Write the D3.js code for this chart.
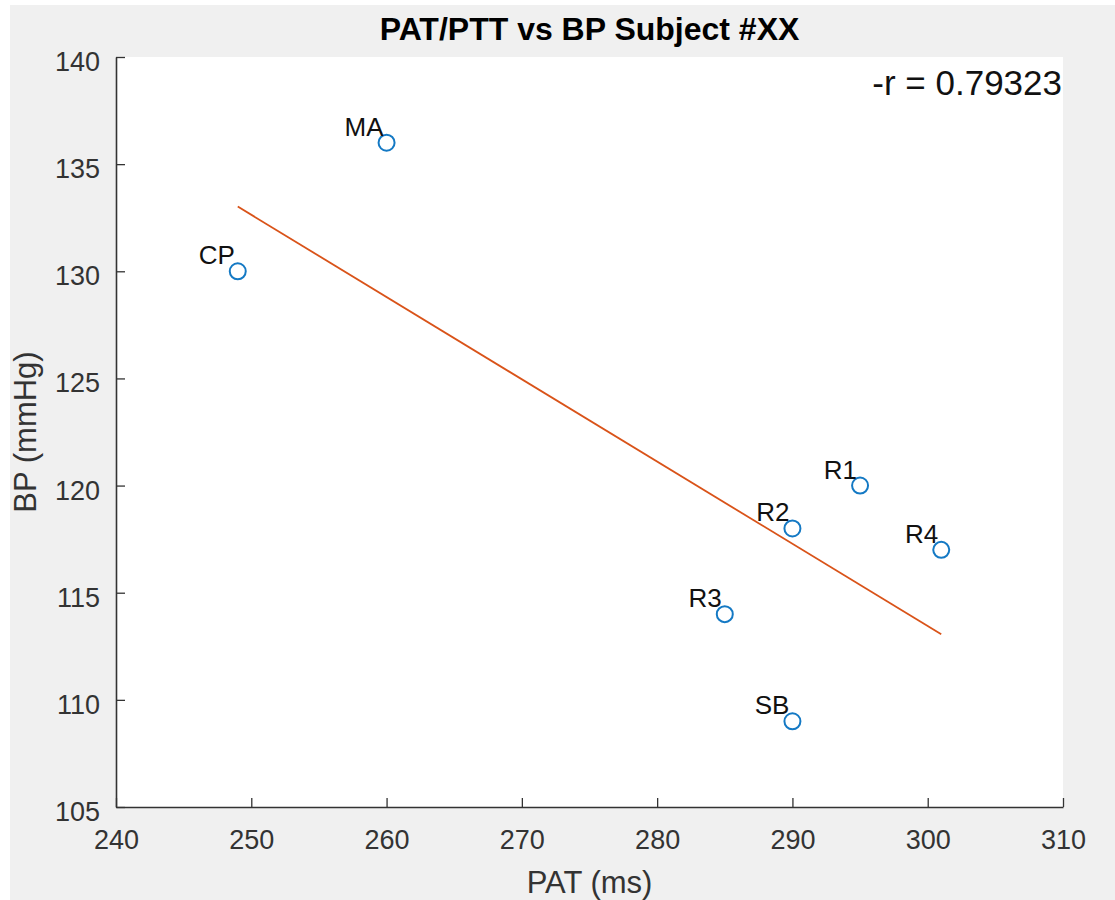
<!DOCTYPE html>
<html>
<head>
<meta charset="utf-8">
<script src="https://cdn.jsdelivr.net/npm/d3@7"></script>
<style>
  body { margin: 0; background: #fff; }
  svg { display: block; font-family: "Liberation Sans", Arial, Helvetica, sans-serif; }
</style>
</head>
<body>
<div id="chart"></div>
<script>
// points
const names = ["MA", "CP", "R1", "R2", "R4", "R3", "SB"];
const pat = [260, 249, 295, 290, 301, 285, 290];
const bp = [136, 130, 120, 118, 117, 114, 109];

// fitted line ends
const fitPat = [249, 301];
const fitBp = [133.02, 113.06];

const xTicks = [240, 250, 260, 270, 280, 290, 300, 310];
const yTicks = [105, 110, 115, 120, 125, 130, 135, 140];
const rText = "-r = 0.79323";

const width = 1115, height = 900;
const plotL = 116, plotR = 1063, plotT = 57, plotB = 807;
const ink = "#333";

const svg = d3.select("#chart")
  .append("svg")
  .attr("width", width)
  .attr("height", height);

// figure background
svg.append("rect")
  .attr("x", 10).attr("y", 5)
  .attr("width", width - 10).attr("height", height - 5)
  .attr("fill", "#f0f0f0");

svg.append("rect")
  .attr("x", plotL).attr("y", plotT)
  .attr("width", plotR - plotL).attr("height", plotB - plotT)
  .attr("fill", "#fff");

const x = d3.scaleLinear().domain([240, 310]).range([plotL, plotR]);
const y = d3.scaleLinear().domain([105, 140]).range([plotB, plotT]);

// x axis
const xAxis = svg.append("g")
  .attr("transform", `translate(0,${plotB})`)
  .call(d3.axisBottom(x).tickValues(xTicks).tickSize(-9).tickPadding(0).tickSizeOuter(0));
xAxis.select(".domain").attr("stroke", ink).attr("stroke-width", 1.6);
xAxis.selectAll(".tick line").attr("stroke", ink).attr("stroke-width", 1.3);
xAxis.selectAll(".tick text")
  .attr("y", 42).attr("dy", null)
  .attr("fill", ink)
  .style("font-size", "27px");

// y axis
const yAxis = svg.append("g")
  .attr("transform", `translate(${plotL},0)`)
  .call(d3.axisLeft(y).tickValues(yTicks).tickSize(-9).tickPadding(0).tickSizeOuter(0));
yAxis.select(".domain").attr("stroke", ink).attr("stroke-width", 1.6);
yAxis.selectAll(".tick line").attr("stroke", ink).attr("stroke-width", 1.3);
yAxis.selectAll(".tick text")
  .attr("x", -16).attr("dy", null).attr("y", 13.5)
  .attr("fill", ink)
  .style("font-size", "27px");

svg.selectAll("g").attr("font-family", null);

// fit line
svg.append("path")
  .datum(d3.zip(fitPat, fitBp))
  .attr("fill", "none")
  .attr("stroke", "#D95319")
  .attr("stroke-width", 1.8)
  .attr("d", d3.line().x(d => x(d[0])).y(d => y(d[1])));

// points
const pts = d3.range(names.length);
svg.append("g")
  .selectAll("circle")
  .data(pts)
  .join("circle")
  .attr("cx", i => x(pat[i]))
  .attr("cy", i => y(bp[i]))
  .attr("r", 8)
  .attr("fill", "none")
  .attr("stroke", "#1479C4")
  .attr("stroke-width", 2);

svg.append("g")
  .selectAll("text")
  .data(pts)
  .join("text")
  .attr("x", i => x(pat[i]) - 3)
  .attr("y", i => y(bp[i]) - 7)
  .attr("text-anchor", "end")
  .attr("fill", "#111")
  .style("font-size", "26px")
  .text(i => names[i]);

// correlation note
svg.append("text")
  .attr("x", plotR - 1)
  .attr("y", 95)
  .attr("text-anchor", "end")
  .attr("fill", "#111")
  .style("font-size", "35px")
  .text(rText);

// title and axis labels
svg.append("text")
  .attr("x", (plotL + plotR) / 2)
  .attr("y", 40)
  .attr("text-anchor", "middle")
  .attr("font-weight", "bold")
  .attr("fill", "#000")
  .style("font-size", "32px")
  .text("PAT/PTT vs BP Subject #XX");

svg.append("text")
  .attr("x", (plotL + plotR) / 2)
  .attr("y", 893)
  .attr("text-anchor", "middle")
  .attr("fill", ink)
  .style("font-size", "31px")
  .text("PAT (ms)");

svg.append("text")
  .attr("transform", `translate(36,${(plotT + plotB) / 2}) rotate(-90)`)
  .attr("text-anchor", "middle")
  .attr("fill", ink)
  .style("font-size", "31px")
  .text("BP (mmHg)");
</script>
</body>
</html>
